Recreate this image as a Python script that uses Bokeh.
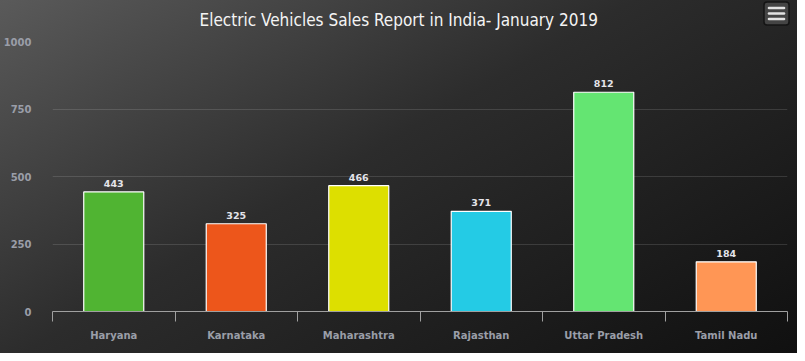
from bokeh.plotting import figure
from bokeh.models import Range1d, FixedTicker, LinearAxis, ColumnDataSource
from bokeh.core.properties import value
from bokeh.embed import file_html
from bokeh.resources import INLINE

categories = ["Haryana", "Karnataka", "Maharashtra", "Rajasthan", "Uttar Pradesh", "Tamil Nadu"]
sales = [443, 325, 466, 371, 812, 184]
colors = ["#50B432", "#ED561B", "#DDDF00", "#24CBE5", "#64E572", "#FF9655"]
y_ticks = [0, 250, 500, 750, 1000]
title_text = "Electric Vehicles Sales Report in India- January 2019"

n = len(categories)
centers = [i + 0.5 for i in range(n)]
bounds = list(range(n + 1))

src = ColumnDataSource(dict(x=centers, top=sales, color=colors, label=[str(v) for v in sales]))

p = figure(width=797, height=353, output_backend="svg", toolbar_location=None,
           x_range=Range1d(0, n), y_range=Range1d(0, 1000),
           min_border_left=45, min_border_right=10, min_border_top=41, min_border_bottom=42,
           x_axis_location=None, y_axis_location=None)
p.background_fill_alpha = 0
p.border_fill_alpha = 0
p.outline_line_color = None

menu_svg = ("data:image/svg+xml;utf8,"
            "<svg xmlns='http://www.w3.org/2000/svg' width='27' height='25'>"
            "<rect x='1' y='1' width='25' height='23' rx='3' ry='3' fill='%23444444' "
            "stroke='%23141414' stroke-width='1.5'/>"
            "<g stroke='%23e2e2e2' stroke-width='2.6' stroke-linecap='round'>"
            "<line x1='6' y1='7' x2='21' y2='7'/>"
            "<line x1='6' y1='12.5' x2='21' y2='12.5'/>"
            "<line x1='6' y1='18' x2='21' y2='18'/>"
            "</g></svg>")
p.styles = {
    "background-image": f"url(\"{menu_svg}\"), linear-gradient(150deg, #5a5a5a 0%, #2c2c2c 45%, #101010 100%)",
    "background-repeat": "no-repeat, no-repeat",
    "background-position": "763px 1px, 0 0",
}

# y axis
ya = LinearAxis(ticker=FixedTicker(ticks=y_ticks))
ya.axis_line_color = None
ya.major_tick_line_color = None
ya.minor_tick_line_color = None
ya.major_label_text_color = "#9a9ea8"
ya.major_label_text_font = "DejaVu Sans"
ya.major_label_text_font_style = "bold"
ya.major_label_text_font_size = "10px"
ya.major_label_standoff = 15
p.add_layout(ya, "left")

# x axis: labels at centers, ticks at category boundaries
xa = LinearAxis(ticker=FixedTicker(ticks=centers, minor_ticks=bounds))
xa.major_label_overrides = {c: name for c, name in zip(centers, categories)}
xa.axis_line_color = "#a0a0a0"
xa.major_tick_line_color = None
xa.minor_tick_line_color = "#a0a0a0"
xa.minor_tick_out = 10
xa.minor_tick_in = 0
xa.major_label_text_color = "#9a9ea8"
xa.major_label_text_font = "DejaVu Sans"
xa.major_label_text_font_style = "bold"
xa.major_label_text_font_size = "10px"
xa.major_label_standoff = 8
p.add_layout(xa, "below")

p.xgrid.visible = False
p.ygrid.ticker = FixedTicker(ticks=y_ticks)
p.ygrid.grid_line_color = "#ffffff"
p.ygrid.grid_line_alpha = 0.13

p.vbar(x="x", top="top", width=0.49, fill_color="color", line_color="white", line_width=1.2, source=src)
p.text(x="x", y="top", text="label", source=src, text_align="center", text_baseline="bottom",
       y_offset=-5, text_color="#e4e4ea", text_font=value("DejaVu Sans"), text_font_style="bold",
       text_font_size="9.5px")

p.title.text = title_text
p.title.align = "left"
p.title.offset = 147
p.title.vertical_align = "top"
p.title.text_color = "#f4f4f4"
p.title.text_font = "DejaVu Sans Condensed"
p.title.text_font_style = "normal"
p.title.text_font_size = "17px"
p.title.standoff = 19

open("out.html", "w").write(file_html(p, INLINE))
